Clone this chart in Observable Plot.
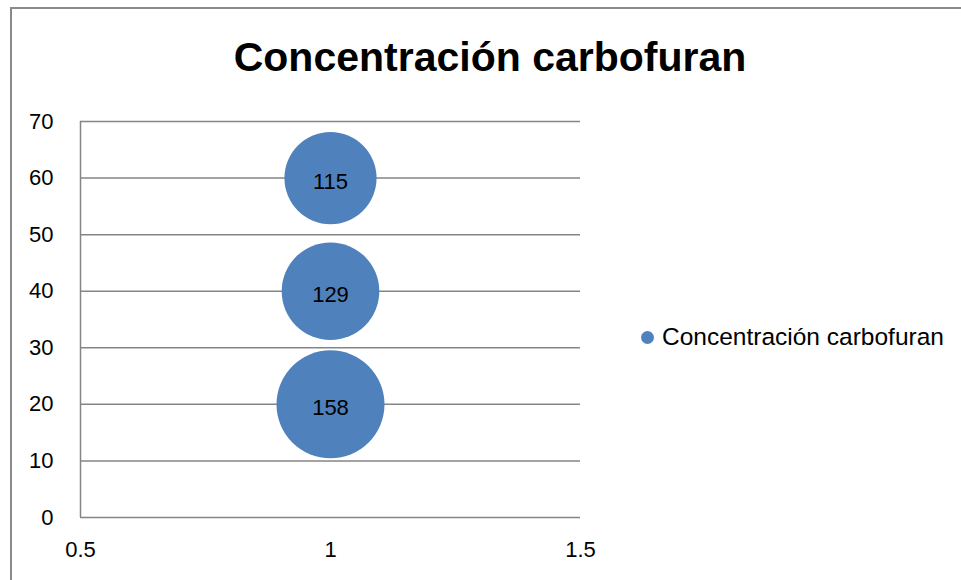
<!DOCTYPE html>
<html>
<head>
<meta charset="utf-8">
<script src="https://cdn.jsdelivr.net/npm/d3@7"></script>
<script src="https://cdn.jsdelivr.net/npm/@observablehq/plot@0.6"></script>
<style>
  html, body { margin: 0; padding: 0; background: #fff; overflow: hidden; }
  #chart { position: relative; width: 961px; height: 580px; font-family: "Liberation Sans", Arial, sans-serif; }
  #frame { position: absolute; left: 10px; top: 7px; width: 1000px; height: 700px;
           border-top: 2px solid #8a8a8a; border-left: 2px solid #8a8a8a; box-sizing: border-box; }
  #title { position: absolute; left: 0; width: 980px; top: 34px; text-align: center;
           font-weight: bold; font-size: 41px; line-height: 46px; color: #000; }
  #legend { position: absolute; left: 641px; top: 322px; font-size: 24.5px; line-height: 30px;
            display: flex; align-items: center; color: #000; white-space: nowrap; }
  #legend .sw { width: 13px; height: 13px; border-radius: 50%; background: #4F81BD; margin-right: 8px; }
  #plot { position: absolute; left: 0; top: 0; }
</style>
</head>
<body>
<div id="chart">
  <div id="frame"></div>
  <div id="plot"></div>
  <div id="title"></div>
  <div id="legend"><span class="sw"></span><span id="legendText"></span></div>
</div>
<script>
const title = "Concentración carbofuran";
const seriesName = "Concentración carbofuran";
const xValues = [1, 1, 1];
const yValues = [60, 40, 20];
const sizes = [115, 129, 158];
const xTicks = [0.5, 1, 1.5];
const yTicks = [0, 10, 20, 30, 40, 50, 60, 70];

const data = xValues.map((x, i) => ({x, y: yValues[i], size: sizes[i]}));

document.getElementById("title").textContent = title;
document.getElementById("legendText").textContent = seriesName;

const chart = Plot.plot({
  width: 961,
  height: 580,
  marginLeft: 80,
  marginRight: 381,
  marginTop: 121,
  marginBottom: 63,
  style: {fontFamily: "'Liberation Sans', Arial, sans-serif", fontSize: "22px", background: "transparent", color: "#000"},
  x: {domain: [0.5, 1.5], label: null},
  y: {domain: [0, 70], label: null},
  r: {domain: [0, 158], range: [0, 54]},
  marks: [
    Plot.gridY({ticks: yTicks, stroke: "#858585", strokeOpacity: 1, strokeWidth: 1.5}),
    Plot.ruleX([0.5], {y1: 0, y2: 70, stroke: "#858585", strokeWidth: 1.5}),
    Plot.axisY({ticks: yTicks, tickSize: 0, tickPadding: 27, label: null, tickFormat: d => String(d)}),
    Plot.axisX({ticks: xTicks, tickSize: 0, tickPadding: 24, label: null, tickFormat: d => String(d)}),
    Plot.dot(data, {x: "x", y: "y", r: "size", fill: "#4F81BD", stroke: "none", fillOpacity: 1}),
    Plot.text(data, {x: "x", y: "y", text: d => String(d.size), fontSize: 22, fill: "#000", dy: 4})
  ]
});
document.getElementById("plot").appendChild(chart);
</script>
</body>
</html>
